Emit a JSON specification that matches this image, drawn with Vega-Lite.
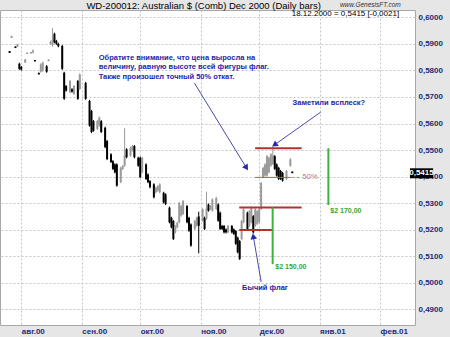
{
  "$schema": "https://vega.github.io/schema/vega-lite/v6.json",
  "width": 415,
  "height": 315,
  "autosize": {"type": "none"},
  "padding": {"left": 0, "top": 10, "right": 35, "bottom": 12},
  "background": "#e6e6e6",
  "datasets": {
    "bars": [
      {"d":"2000-07-26","h":0.5873,"l":0.5866,"o":0.5873,"c":0.5866},
      {"d":"2000-07-27","h":0.5930,"l":0.5922,"o":0.5922,"c":0.5930},
      {"d":"2000-07-29","h":0.5890,"l":0.5884,"o":0.5890,"c":0.5884},
      {"d":"2000-07-30","h":0.5899,"l":0.5889,"o":0.5889,"c":0.5899},
      {"d":"2000-07-31","h":0.5829,"l":0.5802,"o":0.5825,"c":0.5806},
      {"d":"2000-08-01","h":0.5817,"l":0.5799,"o":0.5813,"c":0.5803},
      {"d":"2000-08-03","h":0.5842,"l":0.5829,"o":0.5829,"c":0.5842},
      {"d":"2000-08-04","h":0.5867,"l":0.5862,"o":0.5862,"c":0.5867},
      {"d":"2000-08-06","h":0.5869,"l":0.5864,"o":0.5864,"c":0.5869},
      {"d":"2000-08-07","h":0.5879,"l":0.5864,"o":0.5868,"c":0.5875},
      {"d":"2000-08-08","h":0.5839,"l":0.5834,"o":0.5839,"c":0.5834},
      {"d":"2000-08-10","h":0.5791,"l":0.5785,"o":0.5791,"c":0.5785},
      {"d":"2000-08-11","h":0.5827,"l":0.5791,"o":0.5795,"c":0.5823},
      {"d":"2000-08-12","h":0.5833,"l":0.5795,"o":0.5799,"c":0.5829},
      {"d":"2000-08-14","h":0.5820,"l":0.5791,"o":0.5816,"c":0.5795},
      {"d":"2000-08-15","h":0.5841,"l":0.5835,"o":0.5835,"c":0.5841},
      {"d":"2000-08-16","h":0.5912,"l":0.5896,"o":0.5900,"c":0.5908},
      {"d":"2000-08-17","h":0.5959,"l":0.5889,"o":0.5895,"c":0.5915},
      {"d":"2000-08-18","h":0.5942,"l":0.5902,"o":0.5938,"c":0.5906},
      {"d":"2000-08-19","h":0.5915,"l":0.5896,"o":0.5911,"c":0.5900},
      {"d":"2000-08-20","h":0.5904,"l":0.5887,"o":0.5900,"c":0.5891},
      {"d":"2000-08-22","h":0.5896,"l":0.5802,"o":0.5892,"c":0.5806},
      {"d":"2000-08-23","h":0.5795,"l":0.5689,"o":0.5791,"c":0.5693},
      {"d":"2000-08-24","h":0.5745,"l":0.5720,"o":0.5741,"c":0.5724},
      {"d":"2000-08-26","h":0.5764,"l":0.5714,"o":0.5718,"c":0.5760},
      {"d":"2000-08-27","h":0.5733,"l":0.5716,"o":0.5729,"c":0.5720},
      {"d":"2000-08-28","h":0.5745,"l":0.5707,"o":0.5711,"c":0.5741},
      {"d":"2000-08-30","h":0.5764,"l":0.5689,"o":0.5760,"c":0.5693},
      {"d":"2000-08-31","h":0.5789,"l":0.5726,"o":0.5730,"c":0.5785},
      {"d":"2000-09-03","h":0.5757,"l":0.5689,"o":0.5753,"c":0.5693},
      {"d":"2000-09-05","h":0.5689,"l":0.5588,"o":0.5685,"c":0.5592},
      {"d":"2000-09-06","h":0.5651,"l":0.5564,"o":0.5647,"c":0.5568},
      {"d":"2000-09-07","h":0.5613,"l":0.5569,"o":0.5609,"c":0.5573},
      {"d":"2000-09-09","h":0.5613,"l":0.5576,"o":0.5580,"c":0.5609},
      {"d":"2000-09-10","h":0.5626,"l":0.5588,"o":0.5592,"c":0.5622},
      {"d":"2000-09-11","h":0.5613,"l":0.5564,"o":0.5609,"c":0.5568},
      {"d":"2000-09-13","h":0.5588,"l":0.5507,"o":0.5584,"c":0.5511},
      {"d":"2000-09-14","h":0.5538,"l":0.5462,"o":0.5534,"c":0.5466},
      {"d":"2000-09-16","h":0.5488,"l":0.5451,"o":0.5484,"c":0.5455},
      {"d":"2000-09-17","h":0.5462,"l":0.5425,"o":0.5458,"c":0.5429},
      {"d":"2000-09-18","h":0.5450,"l":0.5412,"o":0.5446,"c":0.5416},
      {"d":"2000-09-19","h":0.5450,"l":0.5362,"o":0.5446,"c":0.5366},
      {"d":"2000-09-21","h":0.5437,"l":0.5375,"o":0.5379,"c":0.5433},
      {"d":"2000-09-22","h":0.5444,"l":0.5425,"o":0.5429,"c":0.5440},
      {"d":"2000-09-23","h":0.5582,"l":0.5437,"o":0.5441,"c":0.5480},
      {"d":"2000-09-24","h":0.5507,"l":0.5469,"o":0.5503,"c":0.5473},
      {"d":"2000-09-26","h":0.5513,"l":0.5475,"o":0.5479,"c":0.5509},
      {"d":"2000-09-27","h":0.5519,"l":0.5494,"o":0.5498,"c":0.5515},
      {"d":"2000-09-28","h":0.5519,"l":0.5469,"o":0.5515,"c":0.5473},
      {"d":"2000-09-30","h":0.5475,"l":0.5437,"o":0.5471,"c":0.5441},
      {"d":"2000-10-01","h":0.5475,"l":0.5394,"o":0.5471,"c":0.5398},
      {"d":"2000-10-02","h":0.5475,"l":0.5412,"o":0.5416,"c":0.5471},
      {"d":"2000-10-04","h":0.5450,"l":0.5387,"o":0.5446,"c":0.5391},
      {"d":"2000-10-05","h":0.5412,"l":0.5375,"o":0.5408,"c":0.5379},
      {"d":"2000-10-06","h":0.5387,"l":0.5356,"o":0.5383,"c":0.5360},
      {"d":"2000-10-08","h":0.5375,"l":0.5318,"o":0.5371,"c":0.5322},
      {"d":"2000-10-09","h":0.5362,"l":0.5337,"o":0.5341,"c":0.5358},
      {"d":"2000-10-10","h":0.5368,"l":0.5343,"o":0.5347,"c":0.5364},
      {"d":"2000-10-11","h":0.5375,"l":0.5337,"o":0.5341,"c":0.5371},
      {"d":"2000-10-13","h":0.5343,"l":0.5299,"o":0.5339,"c":0.5303},
      {"d":"2000-10-14","h":0.5337,"l":0.5293,"o":0.5333,"c":0.5297},
      {"d":"2000-10-16","h":0.5287,"l":0.5224,"o":0.5283,"c":0.5228},
      {"d":"2000-10-17","h":0.5249,"l":0.5205,"o":0.5245,"c":0.5209},
      {"d":"2000-10-18","h":0.5237,"l":0.5161,"o":0.5233,"c":0.5165},
      {"d":"2000-10-19","h":0.5218,"l":0.5186,"o":0.5190,"c":0.5214},
      {"d":"2000-10-20","h":0.5230,"l":0.5205,"o":0.5209,"c":0.5226},
      {"d":"2000-10-21","h":0.5305,"l":0.5224,"o":0.5228,"c":0.5301},
      {"d":"2000-10-22","h":0.5293,"l":0.5249,"o":0.5253,"c":0.5289},
      {"d":"2000-10-23","h":0.5312,"l":0.5255,"o":0.5259,"c":0.5308},
      {"d":"2000-10-25","h":0.5293,"l":0.5224,"o":0.5289,"c":0.5228},
      {"d":"2000-10-26","h":0.5249,"l":0.5192,"o":0.5245,"c":0.5196},
      {"d":"2000-10-27","h":0.5224,"l":0.5136,"o":0.5220,"c":0.5140},
      {"d":"2000-10-29","h":0.5237,"l":0.5199,"o":0.5203,"c":0.5233},
      {"d":"2000-10-30","h":0.5249,"l":0.5211,"o":0.5215,"c":0.5245},
      {"d":"2000-10-31","h":0.5268,"l":0.5111,"o":0.5250,"c":0.5215},
      {"d":"2000-11-02","h":0.5281,"l":0.5230,"o":0.5234,"c":0.5277},
      {"d":"2000-11-03","h":0.5249,"l":0.5199,"o":0.5245,"c":0.5203},
      {"d":"2000-11-04","h":0.5343,"l":0.5237,"o":0.5241,"c":0.5280},
      {"d":"2000-11-05","h":0.5299,"l":0.5268,"o":0.5295,"c":0.5272},
      {"d":"2000-11-06","h":0.5293,"l":0.5274,"o":0.5278,"c":0.5289},
      {"d":"2000-11-07","h":0.5318,"l":0.5268,"o":0.5272,"c":0.5314},
      {"d":"2000-11-09","h":0.5324,"l":0.5274,"o":0.5278,"c":0.5320},
      {"d":"2000-11-10","h":0.5299,"l":0.5230,"o":0.5295,"c":0.5234},
      {"d":"2000-11-11","h":0.5268,"l":0.5199,"o":0.5264,"c":0.5203},
      {"d":"2000-11-12","h":0.5218,"l":0.5199,"o":0.5214,"c":0.5203},
      {"d":"2000-11-13","h":0.5218,"l":0.5186,"o":0.5214,"c":0.5190},
      {"d":"2000-11-14","h":0.5205,"l":0.5186,"o":0.5201,"c":0.5190},
      {"d":"2000-11-15","h":0.5218,"l":0.5186,"o":0.5190,"c":0.5214},
      {"d":"2000-11-17","h":0.5218,"l":0.5186,"o":0.5214,"c":0.5190},
      {"d":"2000-11-18","h":0.5205,"l":0.5180,"o":0.5201,"c":0.5184},
      {"d":"2000-11-19","h":0.5199,"l":0.5143,"o":0.5195,"c":0.5147},
      {"d":"2000-11-20","h":0.5174,"l":0.5111,"o":0.5170,"c":0.5115},
      {"d":"2000-11-21","h":0.5161,"l":0.5086,"o":0.5157,"c":0.5090},
      {"d":"2000-11-22","h":0.5237,"l":0.5161,"o":0.5165,"c":0.5233},
      {"d":"2000-11-23","h":0.5281,"l":0.5224,"o":0.5228,"c":0.5277},
      {"d":"2000-11-25","h":0.5268,"l":0.5199,"o":0.5264,"c":0.5203},
      {"d":"2000-11-26","h":0.5274,"l":0.5211,"o":0.5215,"c":0.5270},
      {"d":"2000-11-27","h":0.5287,"l":0.5224,"o":0.5228,"c":0.5283},
      {"d":"2000-11-28","h":0.5255,"l":0.5186,"o":0.5251,"c":0.5190},
      {"d":"2000-11-29","h":0.5281,"l":0.5211,"o":0.5215,"c":0.5277},
      {"d":"2000-11-30","h":0.5274,"l":0.5218,"o":0.5222,"c":0.5270},
      {"d":"2000-12-01","h":0.5281,"l":0.5224,"o":0.5228,"c":0.5277},
      {"d":"2000-12-02","h":0.5380,"l":0.5274,"o":0.5278,"c":0.5376},
      {"d":"2000-12-03","h":0.5437,"l":0.5394,"o":0.5398,"c":0.5433},
      {"d":"2000-12-04","h":0.5450,"l":0.5400,"o":0.5404,"c":0.5446},
      {"d":"2000-12-05","h":0.5481,"l":0.5400,"o":0.5404,"c":0.5477},
      {"d":"2000-12-06","h":0.5475,"l":0.5412,"o":0.5416,"c":0.5471},
      {"d":"2000-12-07","h":0.5488,"l":0.5437,"o":0.5441,"c":0.5484},
      {"d":"2000-12-08","h":0.5513,"l":0.5444,"o":0.5448,"c":0.5480},
      {"d":"2000-12-09","h":0.5481,"l":0.5425,"o":0.5477,"c":0.5429},
      {"d":"2000-12-10","h":0.5450,"l":0.5400,"o":0.5446,"c":0.5404},
      {"d":"2000-12-11","h":0.5437,"l":0.5387,"o":0.5433,"c":0.5391},
      {"d":"2000-12-12","h":0.5425,"l":0.5387,"o":0.5421,"c":0.5391},
      {"d":"2000-12-13","h":0.5418,"l":0.5381,"o":0.5414,"c":0.5385},
      {"d":"2000-12-15","h":0.5425,"l":0.5387,"o":0.5391,"c":0.5421},
      {"d":"2000-12-17","h":0.5469,"l":0.5437,"o":0.5441,"c":0.5465},
      {"d":"2000-12-18","h":0.5419,"l":0.5413,"o":0.5419,"c":0.5413}
    ],
    "redLines": [
      {"d":"2000-11-28T22:00:00Z","d2":"2000-12-22T19:00:00Z","v":0.5507},
      {"d":"2000-11-20T19:00:00Z","d2":"2000-12-22T19:00:00Z","v":0.5284},
      {"d":"2000-11-20T19:00:00Z","d2":"2000-12-07T18:00:00Z","v":0.5199}
    ],
    "halfSolid": [{"d":"2000-11-28T22:00:00Z","d2":"2000-12-17T02:00:00Z","v":0.5397}],
    "halfDash": [{"d":"2000-12-17T14:00:00Z","d2":"2000-12-21T19:00:00Z","v":0.5397}],
    "pct": [{"d":"2000-12-23T07:00:00Z","v":0.5397,"t":"50%"}],
    "greenLines": [
      {"d":"2000-12-07T22:00:00Z","v":0.5284,"v2":0.5070},
      {"d":"2001-01-05T12:00:00Z","v":0.5507,"v2":0.5293}
    ],
    "greenText": [
      {"d":"2000-12-09T07:00:00Z","v":0.50595,"t":"$2 150,00"},
      {"d":"2001-01-06T12:00:00Z","v":0.52704,"t":"$2 170,00"}
    ],
    "arrows": [
      {"d":"2000-10-28T19:00:00Z","v":0.57525,"d2":"2000-11-24T05:00:00Z","v2":0.54362,"a":147},
      {"d":"2001-01-01T15:00:00Z","v":0.56433,"d2":"2000-12-09T07:00:00Z","v2":0.55217,"a":235},
      {"d":"2000-12-02T01:00:00Z","v":0.50030,"d2":"2000-11-28T02:00:00Z","v2":0.51714,"a":349}
    ],
    "blueText": [
      {"d":"2000-09-09T17:00:00Z","v":0.58478,"t":"Обратите внимание, что цена выросла на"},
      {"d":"2000-09-09T17:00:00Z","v":0.58128,"t":"величину, равную высоте всей фигуры флаг."},
      {"d":"2000-09-09T17:00:00Z","v":0.57770,"t":"Также произошел точный 50% откат."},
      {"d":"2000-12-18T03:00:00Z","v":0.56783,"t":"Заметили всплеск?"},
      {"d":"2000-11-22T06:00:00Z","v":0.49823,"t":"Бычий флаг"}
    ],
    "header": [{"d":"2000-11-02T12:00:00Z","v":0.60444,"t":"WD-200012:  Australian $ (Comb) Dec 2000  (Daily bars)"}],
    "quote": [{"d":"2001-02-10T19:00:00Z","v":0.60143,"t":"18.12.2000 = 0,5415 [-0,0021]"}],
    "site": [{"d":"2001-01-27T00:00:00Z","v":0.60463,"t":"www.GenesisFT.com"}],
    "lastBox": [{"d":"2001-02-16T08:00:00Z","d2":"2001-02-28T05:00:00Z","v":0.54313,"v2":0.53936}],
    "lastLabel": [{"d":"2001-02-22T06:00:00Z","v":0.54125,"t":"0,5415"}]
  },
  "encoding": {
    "x": {
      "type": "temporal",
      "title": null,
      "scale": {
        "type": "utc",
        "nice": false,
        "domain": [
          {"year":2000,"month":7,"date":23,"hours":15,"minutes":24,"utc":true},
          {"year":2001,"month":2,"date":16,"hours":8,"minutes":46,"utc":true}
        ]
      },
      "axis": {
        "values": [
          {"year":2000,"month":8,"date":1,"utc":true},
          {"year":2000,"month":9,"date":1,"utc":true},
          {"year":2000,"month":10,"date":1,"utc":true},
          {"year":2000,"month":11,"date":1,"utc":true},
          {"year":2000,"month":12,"date":1,"utc":true},
          {"year":2001,"month":1,"date":1,"utc":true},
          {"year":2001,"month":2,"date":1,"utc":true}
        ],
        "format": "%b.%y",
        "labelAlign": "left",
        "labelBaseline": "top",
        "labelPadding": 2,
        "labelFlush": false,
        "labelOverlap": false,
        "labelBound": false,
        "grid": true
      }
    },
    "y": {
      "type": "quantitative",
      "title": null,
      "scale": {"domain": [0.48411, 0.60275], "nice": false, "zero": false},
      "axis": {
        "orient": "right",
        "values": [0.49, 0.5, 0.51, 0.52, 0.53, 0.54, 0.55, 0.56, 0.57, 0.58, 0.59, 0.6],
        "format": ".4f",
        "labelPadding": 3,
        "labelOverlap": false,
        "labelBound": false,
        "labelFlush": false,
        "grid": true
      }
    }
  },
  "layer": [
    {
      "data": {"name": "bars"},
      "mark": {"type": "rule", "strokeWidth": 1},
      "encoding": {
        "x": {"field": "d"},
        "y": {"field": "l"},
        "y2": {"field": "h"},
        "color": {"condition": {"test": "datum.c < datum.o", "value": "#000000"}, "value": "#9a9a9a"}
      }
    },
    {
      "data": {"name": "bars"},
      "mark": {"type": "bar", "width": 2},
      "encoding": {
        "x": {"field": "d"},
        "y": {"field": "o"},
        "y2": {"field": "c"},
        "color": {"condition": {"test": "datum.c < datum.o", "value": "#000000"}, "value": "#9a9a9a"}
      }
    },
    {
      "data": {"name": "redLines"},
      "mark": {"type": "rule", "color": "#b53030", "strokeWidth": 2},
      "encoding": {"x": {"field": "d"}, "x2": {"field": "d2"}, "y": {"field": "v"}}
    },
    {
      "data": {"name": "halfSolid"},
      "mark": {"type": "rule", "color": "#b85a5a", "strokeWidth": 1},
      "encoding": {"x": {"field": "d"}, "x2": {"field": "d2"}, "y": {"field": "v"}}
    },
    {
      "data": {"name": "halfDash"},
      "mark": {"type": "rule", "color": "#d08080", "strokeWidth": 1, "strokeDash": [3, 2]},
      "encoding": {"x": {"field": "d"}, "x2": {"field": "d2"}, "y": {"field": "v"}}
    },
    {
      "data": {"name": "pct"},
      "mark": {"type": "text", "align": "left", "baseline": "middle", "font": "Liberation Sans", "fontSize": 7.5, "color": "#d07070"},
      "encoding": {"x": {"field": "d"}, "y": {"field": "v"}, "text": {"field": "t"}}
    },
    {
      "data": {"name": "greenLines"},
      "mark": {"type": "rule", "color": "#3cb43c", "strokeWidth": 2},
      "encoding": {"x": {"field": "d"}, "y": {"field": "v"}, "y2": {"field": "v2"}}
    },
    {
      "data": {"name": "greenText"},
      "mark": {"type": "text", "align": "left", "baseline": "middle", "font": "Liberation Sans", "fontSize": 7, "fontWeight": "bold", "color": "#32a832"},
      "encoding": {"x": {"field": "d"}, "y": {"field": "v"}, "text": {"field": "t"}}
    },
    {
      "data": {"name": "arrows"},
      "mark": {"type": "rule", "color": "#4a4aa8", "strokeWidth": 1},
      "encoding": {"x": {"field": "d"}, "y": {"field": "v"}, "x2": {"field": "d2"}, "y2": {"field": "v2"}}
    },
    {
      "data": {"name": "arrows"},
      "mark": {"type": "point", "shape": "triangle", "filled": true, "opacity": 1, "size": 45, "color": "#2828b0"},
      "encoding": {"x": {"field": "d2"}, "y": {"field": "v2"}, "angle": {"field": "a", "type": "quantitative", "scale": null}}
    },
    {
      "data": {"name": "blueText"},
      "mark": {"type": "text", "align": "left", "baseline": "middle", "font": "Liberation Sans", "fontSize": 7.5, "fontWeight": "bold", "color": "#1e1ea8"},
      "encoding": {"x": {"field": "d"}, "y": {"field": "v"}, "text": {"field": "t"}}
    },
    {
      "data": {"name": "header"},
      "mark": {"type": "text", "align": "center", "baseline": "middle", "font": "Liberation Sans", "fontSize": 9.5, "color": "#000000"},
      "encoding": {"x": {"field": "d"}, "y": {"field": "v"}, "text": {"field": "t"}}
    },
    {
      "data": {"name": "quote"},
      "mark": {"type": "text", "align": "right", "baseline": "middle", "font": "Liberation Sans", "fontSize": 8, "color": "#000000"},
      "encoding": {"x": {"field": "d"}, "y": {"field": "v"}, "text": {"field": "t"}}
    },
    {
      "data": {"name": "site"},
      "mark": {"type": "text", "align": "center", "baseline": "middle", "font": "Liberation Sans", "fontSize": 6.5, "fontStyle": "italic", "color": "#303030"},
      "encoding": {"x": {"field": "d"}, "y": {"field": "v"}, "text": {"field": "t"}}
    },
    {
      "data": {"name": "lastBox"},
      "mark": {"type": "rect", "color": "#000000"},
      "encoding": {"x": {"field": "d"}, "x2": {"field": "d2"}, "y": {"field": "v"}, "y2": {"field": "v2"}}
    },
    {
      "data": {"name": "lastLabel"},
      "mark": {"type": "text", "align": "center", "baseline": "middle", "font": "Liberation Sans", "fontSize": 8, "fontWeight": "bold", "color": "#ffffff"},
      "encoding": {"x": {"field": "d"}, "y": {"field": "v"}, "text": {"field": "t"}}
    }
  ],
  "config": {
    "locale": {
      "number": {"decimal": ",", "thousands": " ", "grouping": [3], "currency": ["", ""]},
      "time": {
        "dateTime": "%A, %e %B %Y г. %X",
        "date": "%d.%m.%Y",
        "time": "%H:%M:%S",
        "periods": ["AM", "PM"],
        "days": ["воскресенье", "понедельник", "вторник", "среда", "четверг", "пятница", "суббота"],
        "shortDays": ["вс", "пн", "вт", "ср", "чт", "пт", "сб"],
        "months": ["января", "февраля", "марта", "апреля", "мая", "июня", "июля", "августа", "сентября", "октября", "ноября", "декабря"],
        "shortMonths": ["янв", "фев", "мар", "апр", "май", "июн", "июл", "авг", "сен", "окт", "ноя", "дек"]
      }
    },
    "view": {"fill": "#ffffff", "stroke": "#a8a8a8"},
    "axis": {
      "gridColor": "#c4c4c4",
      "gridDash": [2, 2],
      "gridWidth": 1,
      "labelFont": "Liberation Sans",
      "labelFontWeight": "bold",
      "labelFontSize": 8,
      "labelColor": "#1e2a7a",
      "ticks": false,
      "domain": false
    }
  }
}
